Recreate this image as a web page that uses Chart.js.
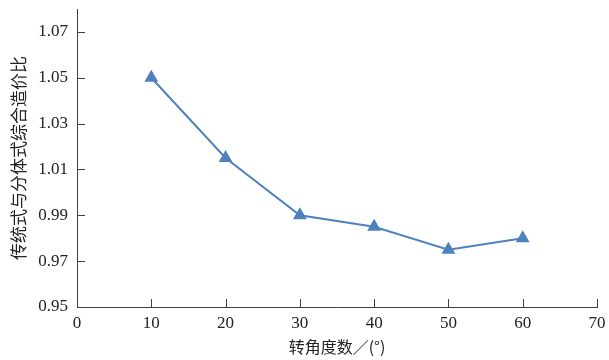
<!DOCTYPE html>
<html>
<head>
<meta charset="utf-8">
<script src="https://cdn.jsdelivr.net/npm/chart.js@4/dist/chart.umd.min.js"></script>
<style>
  html, body { margin: 0; padding: 0; background: #fff; }
  #wrap { width: 609px; height: 360px; }
</style>
</head>
<body>
<div id="wrap"><canvas id="chart" width="609" height="360"></canvas></div>
<script>
// data
const angles = [10, 20, 30, 40, 50, 60];
const ratios = [1.050, 1.015, 0.990, 0.985, 0.975, 0.980];
const yTicks = [0.95, 0.97, 0.99, 1.01, 1.03, 1.05, 1.07];
const xTicks = [0, 10, 20, 30, 40, 50, 60, 70];

const axisColor = '#404040';
const serif = "'Liberation Serif', 'DejaVu Serif', serif";
const cjk = "'Noto Sans CJK SC', sans-serif";

// tick marks pointing into the plot
const inwardTicks = {
    id: 'inwardTicks',
    afterDraw(chart) {
        const ctx = chart.ctx;
        const x = chart.scales.x, y = chart.scales.y;
        ctx.save();
        ctx.strokeStyle = axisColor;
        ctx.lineWidth = 1;
        ctx.beginPath();
        y.ticks.forEach(t => {
            const py = Math.round(y.getPixelForValue(t.value)) + 0.5;
            ctx.moveTo(x.left, py);
            ctx.lineTo(x.left + 8, py);
        });
        x.ticks.forEach(t => {
            const px = Math.round(x.getPixelForValue(t.value)) + 0.5;
            ctx.moveTo(px, y.bottom);
            ctx.lineTo(px, y.bottom - 8);
        });
        ctx.stroke();
        ctx.restore();
    }
};

// drop the extra room Chart.js keeps for edge labels
function noEdgePadding(s) {
    s.paddingTop = 0;
    s.paddingBottom = 0;
    s.paddingLeft = 0;
    s.paddingRight = 0;
}

new Chart(document.getElementById('chart').getContext('2d'), {
    type: 'line',
    data: {
        datasets: [{
            data: angles.map((a, i) => ({ x: a, y: ratios[i] })),
            borderColor: '#4f81bd',
            backgroundColor: '#4f81bd',
            borderWidth: 2,
            pointStyle: 'triangle',
            pointRadius: 6,
            pointHoverRadius: 6,
            tension: 0
        }]
    },
    options: {
        responsive: false,
        animation: false,
        layout: { padding: { top: 9, right: 12, left: 0, bottom: 0 } },
        plugins: { legend: { display: false }, tooltip: { enabled: false } },
        scales: {
            x: {
                type: 'linear',
                min: 0,
                max: 70,
                afterBuildTicks: s => { s.ticks = xTicks.map(v => ({ value: v })); },
                afterFit: s => { s.height = 53; noEdgePadding(s); },
                grid: { display: false, drawTicks: false },
                border: { display: true, color: axisColor, width: 1 },
                ticks: {
                    color: '#222',
                    padding: 6,
                    maxRotation: 0,
                    font: { family: serif, size: 17 }
                },
                title: {
                    display: true,
                    text: '转角度数／(°)',
                    color: '#222',
                    padding: { top: 0, bottom: 3 },
                    font: { family: cjk, size: 16 }
                }
            },
            y: {
                min: 0.95,
                max: 1.08,
                afterBuildTicks: s => { s.ticks = yTicks.map(v => ({ value: v })); },
                afterFit: s => { s.width = 77; noEdgePadding(s); },
                grid: { display: false, drawTicks: false },
                border: { display: true, color: axisColor, width: 1 },
                ticks: {
                    color: '#222',
                    padding: 9,
                    font: { family: serif, size: 17 },
                    callback: v => v.toFixed(2)
                },
                title: {
                    display: true,
                    text: '传统式与分体式综合造价比',
                    color: '#222',
                    padding: { top: 8, bottom: 0 },
                    font: { family: cjk, size: 17 }
                }
            }
        }
    },
    plugins: [inwardTicks]
});
</script>
</body>
</html>
